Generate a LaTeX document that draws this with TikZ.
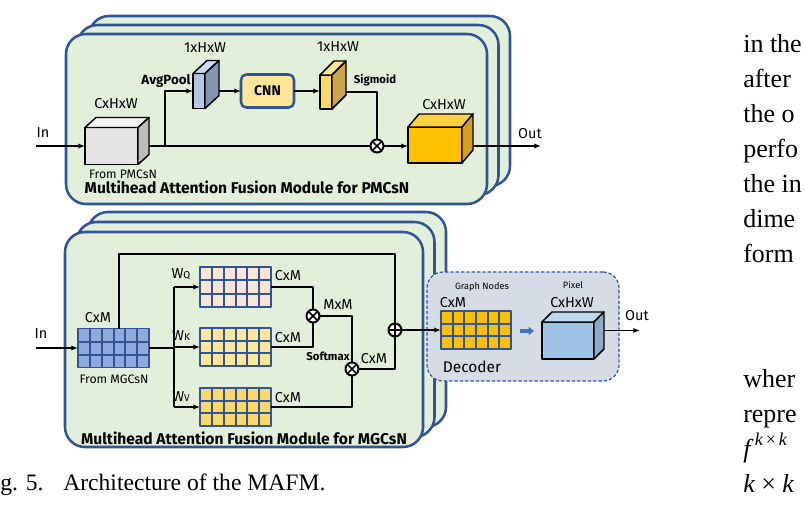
\documentclass[tikz,border=0pt]{standalone}
\usepackage{fontspec}
\setmainfont{Liberation Serif}
\newfontfamily\dgfont{Fira Sans}
\usetikzlibrary{arrows.meta,calc}
\definecolor{modfill}{HTML}{E2EFDA}
\definecolor{modedge}{HTML}{2F5597}
\definecolor{decfill}{HTML}{D6DCE5}
\definecolor{grayfront}{HTML}{E4E4E4}
\definecolor{graytop}{HTML}{F3F3F3}
\definecolor{grayside}{HTML}{BDBDBD}
\definecolor{avgfront}{HTML}{B4C7E7}
\definecolor{avgtop}{HTML}{CCD9EF}
\definecolor{avgside}{HTML}{8497B0}
\definecolor{sigfront}{HTML}{FFD966}
\definecolor{sigtop}{HTML}{FFE699}
\definecolor{sigside}{HTML}{C9A64E}
\definecolor{outfront}{HTML}{FFC000}
\definecolor{outtop}{HTML}{FFD041}
\definecolor{outside}{HTML}{D4A017}
\definecolor{pxfront}{HTML}{9DC3E6}
\definecolor{pxtop}{HTML}{BDD7EE}
\definecolor{pxside}{HTML}{8EA9C4}
\definecolor{mgfill}{HTML}{8FAADC}
\definecolor{qfill}{HTML}{FBE5D6}
\definecolor{kfill}{HTML}{FFE699}
\definecolor{vfill}{HTML}{FFD966}
\definecolor{dfill}{HTML}{FFC000}
\definecolor{cnnfill}{HTML}{FFE699}
\definecolor{blkarr}{HTML}{4472C4}
\tikzset{
  >={Latex[length=5pt,width=4pt]},
  every picture/.style={line join=round},
  sz/.style 2 args={minimum width=#1*0.75pt, minimum height=#2*0.75pt},
  module/.style={draw=modedge, fill=modfill, line width=1.9pt, rounded corners=15pt},
  face/.style={draw=black, line width=1.1pt, inner sep=0pt, outer sep=0pt},
  cellbox/.style={draw=modedge, line width=1.3pt, inner sep=0pt, outer sep=0pt},
  cellline/.style={draw=modedge, line width=1.5pt},
  cnnbox/.style={draw=modedge, fill=cnnfill, line width=1.9pt, rounded corners=4pt,
    inner sep=0pt, outer sep=0pt, font=\dgfont\bfseries\fontsize{10.5}{12}\selectfont},
  decbox/.style={draw=modedge, fill=decfill, line width=0.9pt, dash pattern=on 2.5pt off 1.5pt,
    rounded corners=12pt, inner sep=0pt},
  op/.style={circle, draw=black, fill=white, line width=1.5pt, inner sep=0pt, outer sep=0pt,
    minimum size=13*0.75pt},
  mul/.style={op, path picture={\draw[line width=1.2pt]
    (path picture bounding box.north west) -- (path picture bounding box.south east)
    (path picture bounding box.north east) -- (path picture bounding box.south west);}},
  add/.style={op, path picture={\draw[line width=1.2pt]
    (path picture bounding box.north) -- (path picture bounding box.south)
    (path picture bounding box.west) -- (path picture bounding box.east);}},
  conn/.style={draw=black, line width=1pt},
  blk/.style={-{Triangle[length=4pt,width=6pt]}, draw=blkarr, line width=2.6pt},
  lbl/.style={font=\dgfont\fontsize{10.8}{12}\selectfont, inner sep=0pt},
  sml/.style={font=\dgfont\fontsize{9.2}{10}\selectfont, inner sep=0pt},
  tny/.style={font=\dgfont\fontsize{6.9}{8}\selectfont, inner sep=0pt},
  bld/.style={font=\dgfont\bfseries\fontsize{8.5}{10}\selectfont, inner sep=0pt},
  ttl/.style={font=\dgfont\bfseries\fontsize{11.7}{13}\selectfont, inner sep=0pt},
  body/.style={font=\fontsize{19.5}{23}\selectfont, anchor=base west, inner sep=0pt},
  capt/.style={font=\fontsize{17.7}{20}\selectfont, anchor=base west, inner sep=0pt},
}
% top and side of a block drawn from its front face node
\newcommand{\cubefaces}[5]{%
  \filldraw[face, fill=#4] (#1.north west) -- ++(#2,#3) -- ($(#1.north east)+(#2,#3)$) -- (#1.north east) -- cycle;
  \filldraw[face, fill=#5] (#1.north east) -- ++(#2,#3) -- ($(#1.south east)+(#2,#3)$) -- (#1.south east) -- cycle;
}
% 6x3 cell lines inside a grid node
\newcommand{\cells}[1]{%
  \foreach \i in {1,...,5}
    \draw[cellline] ($(#1.north west)!\i/6!(#1.north east)$) -- ($(#1.south west)!\i/6!(#1.south east)$);
  \foreach \j in {1,2}
    \draw[cellline] ($(#1.north west)!\j/3!(#1.south west)$) -- ($(#1.north east)!\j/3!(#1.south east)$);
}
% three stacked module panels, front one given
\newcommand{\modstack}[5]{%
  \foreach \k in {2,1,0}
    \draw[module] ({#1+11.5*\k},{#2-#5*\k}) rectangle ({#3+11.5*\k},{#4-#5*\k});
}
\begin{document}
\begin{tikzpicture}[x=0.75pt, y=-0.75pt]
  \useasboundingbox (0,0) rectangle (805,508);
  % PMCsN module
  \modstack{66}{34}{487}{204}{9}
  \node[face, fill=grayfront, sz={53}{37}] (pin) at (111.5,146) {};
  \cubefaces{pin}{11}{-10}{graytop}{grayside}
  \node[face, fill=avgfront, sz={12}{35}] (avg) at (199,91) {};
  \cubefaces{avg}{14}{-13}{avgtop}{avgside}
  \node[cnnbox, sz={53}{33}] (cnn) at (267.5,91) {CNN};
  \node[face, fill=sigfront, sz={12}{34}] (sig) at (326,92) {};
  \cubefaces{sig}{14}{-14}{sigtop}{sigside}
  \node[mul] (m0) at (377,146) {};
  \node[face, fill=outfront, sz={54}{36}] (pout) at (435,145) {};
  \cubefaces{pout}{11}{-13}{outtop}{outside}
  \coordinate (pin-in) at (36,146);
  \coordinate (br) at (165,146);
  \coordinate (pout-out) at (541,146);
  \draw[conn, ->] (pin-in) -- (pin.west);
  \draw[conn] ($(pin.east)+(11,0)$) -- (m0.west);
  \draw[conn, ->] (br) |- (avg.west);
  \draw[conn, ->] ($(avg.east)+(14,0)$) -- (cnn.west);
  \draw[conn, ->] (cnn.east) -- (cnn.east -| sig.west);
  \draw[conn] ($(sig.east)+(14,0)$) -| (m0.north);
  \draw[conn, ->] (m0.east) -- (m0 -| pout.west);
  \draw[conn, ->] ($(pout.east)+(11,1)$) -- (pout-out);
  \node[lbl] (pinl) at (43,133) {In};
  \node[lbl] (pind) at (116,104) {CxHxW};
  \node[sml] (pfrom) at (123,174) {From PMCsN};
  \node[bld, font=\dgfont\bfseries\fontsize{10}{11}\selectfont] (avgl) at (166,81) {AvgPool};
  \node[lbl] (avgd) at (205,48) {1xHxW};
  \node[lbl] (sigd) at (338,47) {1xHxW};
  \node[bld] (sigl) at (375,80) {Sigmoid};
  \node[lbl] (poutd) at (444,105) {CxHxW};
  \node[lbl] (poutl) at (530,134) {Out};
  \node[ttl] (ptitle) at (247,187) {Multihead Attention Fusion Module for PMCsN};
  % MGCsN module
  \modstack{65}{232}{423}{447}{10}
  \node[cellbox, fill=mgfill, sz={71}{39}] (mg) at (113.5,348) {};
  \cells{mg}
  \node[cellbox, fill=qfill, sz={71}{40}] (q) at (235.5,287) {};
  \cells{q}
  \node[cellbox, fill=kfill, sz={71}{38}] (k) at (235.5,347) {};
  \cells{k}
  \node[cellbox, fill=vfill, sz={71}{38}] (v) at (235.5,407) {};
  \cells{v}
  \node[mul] (m1) at (313,316) {};
  \node[mul] (m2) at (352,369) {};
  \node[add] (a1) at (395,330) {};
  \coordinate (mg-in) at (36,348);
  \coordinate (fork) at (174,348);
  \coordinate (skip) at (119,254);
  \draw[conn, ->] (mg-in) -- (mg.west);
  \draw[conn] (mg.east) -- (fork);
  \draw[conn] (fork |- q.west) -- (fork |- v.west);
  \foreach \g in {q,k,v}
    \draw[conn, ->] (fork |- \g.west) -- (\g.west);
  \draw[conn] (mg.north -| skip) -- (skip) -| (a1.north);
  \draw[conn] (q.east) -| (m1.north);
  \draw[conn] (k.east) -| (m1.south);
  \draw[conn] (m1.east) -| (m2.north);
  \draw[conn] (v.east) -| (m2.south);
  \draw[conn] (m2.east) -| (a1.south);
  \node[lbl] (mgl) at (41,334) {In};
  \node[lbl] (mgd) at (98,318) {CxM};
  \node[sml] (mgfrom) at (114,379) {From MGCsN};
  \node[lbl] (wq) at (181,274) {W{\fontsize{7.5}{8}\selectfont Q}};
  \node[lbl] (wk) at (181,336) {W{\fontsize{7.5}{8}\selectfont K}};
  \node[lbl] (wv) at (181,397) {W{\fontsize{7.5}{8}\selectfont V}};
  \node[lbl] (qd) at (288,276) {CxM};
  \node[lbl] (kd) at (288,338) {CxM};
  \node[lbl] (vd) at (288,398) {CxM};
  \node[lbl] (m1d) at (338,305) {MxM};
  \node[bld] (smx) at (328,356) {Softmax};
  \node[lbl] (m2d) at (374,359) {CxM};
  \node[ttl] (mtitle) at (244,438) {Multihead Attention Fusion Module for MGCsN};
  % decoder
  \node[decbox, sz={192}{109}] (dec) at (523,326.5) {};
  \node[cellbox, fill=dfill, sz={70}{38}] (dg) at (476,330) {};
  \cells{dg}
  \node[face, fill=pxfront, sz={52}{37}] (px) at (568,340.5) {};
  \cubefaces{px}{10}{-10}{pxtop}{pxside}
  \coordinate (dec-out) at (640,330.5);
  \draw[conn, ->] (a1.east) -- (dg.west);
  \draw[blk] ($(dg.east)+(9,1)$) -- ++(14,0);
  \draw[conn, ->] ($(px.east)+(10,-10)$) -- (dec-out);
  \node[tny] (gn) at (482,287) {Graph Nodes};
  \node[lbl] (dgd) at (453,303) {CxM};
  \node[tny] (pxl) at (573,285) {Pixel};
  \node[lbl] (pxd) at (572,303) {CxHxW};
  \node[lbl, font=\dgfont\fontsize{11.6}{13}\selectfont] (decl) at (472,367) {Decoder};
  \node[lbl] (decol) at (637,316) {Out};
  % page text around the figure
  \node[body] (t1) at (743,52) {in the};
  \node[body] (t2) at (743,87) {after};
  \node[body] (t3) at (743,122) {the o};
  \node[body] (t4) at (743,157) {perfo};
  \node[body] (t5) at (743,192) {the in};
  \node[body] (t6) at (743,227) {dime};
  \node[body] (t7) at (743,262) {form};
  \node[body] (t8) at (743,387) {wher};
  \node[body] (t9) at (743,422) {repre};
  \node[body] (t10) at (743,457) {\itshape f\,\raisebox{0.45em}{\fontsize{13.5}{16}\selectfont k\,\upshape×\,\itshape k}};
  \node[body] (t11) at (743,492) {\itshape k \upshape× \itshape k};
  \node[capt] (cap1) at (0,490) {g. 5.};
  \node[capt] (cap2) at (63,490) {Architecture of the MAFM.};
\end{tikzpicture}
\end{document}
